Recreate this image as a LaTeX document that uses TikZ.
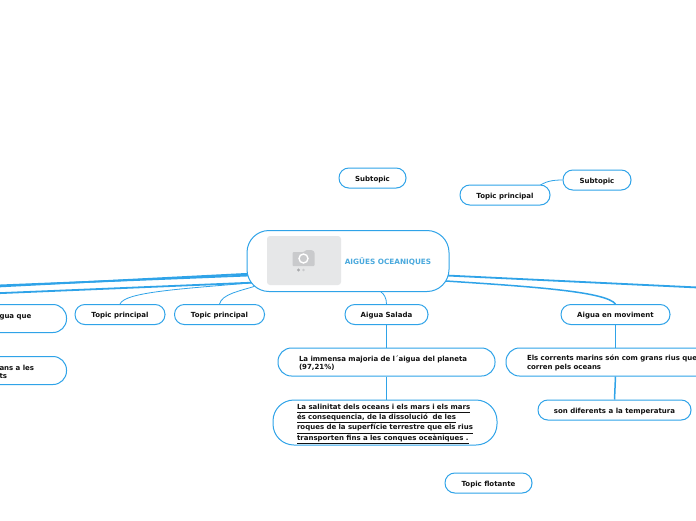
\documentclass[tikz,border=0pt]{standalone}
\usepackage{fontspec}
\setmainfont{DejaVu Sans}
\usetikzlibrary{backgrounds}
\definecolor{mapblue}{HTML}{2FA3E8}
\definecolor{titleblue}{HTML}{4AA9DD}
\definecolor{phgrey}{HTML}{E6E7E8}
\definecolor{camgrey}{HTML}{C9CACC}
\definecolor{dotgrey}{HTML}{A9AAAC}
\definecolor{ink}{HTML}{111111}
\newcommand\dn{\rule{0pt}{8pt}}
\newcommand\ulline[1]{\underline{\rule[-1.6pt]{0pt}{6pt}#1}}
\tikzset{
  x=1pt,y=-1pt,
  mapbox/.style n args={2}{draw=mapblue,line width=1pt,fill=white,rounded corners=#2,
    minimum height=#1,inner sep=0pt,text=ink,font=\fontsize{7}{8.9}\selectfont\bfseries},
  small/.style={mapbox={20pt}{9.8pt},minimum width=#1,text height=6pt,text depth=0pt},
  wide/.style n args={4}{mapbox={#1}{#4},minimum width=#2,text width=#2-2*#3,inner xsep=#3,align=left},
  thinlink/.style={draw=mapblue,line width=0.8pt},
  midlink/.style={draw=mapblue,line width=1.5pt},
  longlink/.style={draw=mapblue,line width=1.8pt},
}
\begin{document}
\begin{tikzpicture}
\useasboundingbox (0,0) rectangle (696,520);
\clip (0,0) rectangle (696,520);

% centre
\node[draw=mapblue,line width=1pt,fill=white,rounded corners=22pt,minimum width=202pt,minimum height=61pt,inner sep=0pt] (c) at (348,261) {};
\node[fill=phgrey,rounded corners=3pt,minimum width=74pt,minimum height=49pt,inner sep=0pt] (photo) at (304,260.5) {};
\node[text=titleblue,font=\fontsize{7.3}{8}\selectfont\bfseries,inner sep=0pt] (title) at (388,261.5) {AIGÜES OCEANIQUES};
% camera icon
\fill[camgrey,rounded corners=1pt] (292.5,252) -- (304,252) -- (306,250) -- (312,250) -- (314.5,252) -- (314.5,266) -- (292.5,266) -- cycle;
\draw[white,line width=1.4pt] (303.5,258.5) circle (4.5);
\fill[dotgrey] (298.5,270) circle (1.6);
\fill[camgrey] (303.5,270) circle (1.4);

% nodes
\node[small=67pt] (s1) at (372.5,178) {Subtopic};
\node[small=68pt] (s2) at (597,180) {Subtopic};
\node[small=90pt] (tp0) at (505,195) {Topic principal};
\node[small=90pt] (tp1) at (120,314.5) {Topic principal};
\node[small=90pt] (tp2) at (219.5,314.5) {Topic principal};
\node[small=83pt] (sal) at (386.5,314.5) {Aigua Salada};
\node[small=109pt] (mov) at (615.5,314.5) {Aigua en moviment};
\node[small=153pt] (dif) at (614.5,410) {son diferents a la temperatura};
\node[small=87pt] (flo) at (488.5,483) {Topic flotante};
\node[wide={28pt}{87pt}{20pt}{13.5pt}] (l1) at (23,318.5) {\dn gua que\\\mbox{}};
\node[wide={28pt}{87pt}{20pt}{13.5pt}] (l2) at (23,370.5) {\dn ans a les\\ts};
\node[wide={28pt}{217pt}{21pt}{13.5pt}] (imm) at (386.5,362) {\dn La immensa majoria de l´aigua del planeta\\(97,21\%)};
\node[wide={45pt}{224pt}{24pt}{21pt}] (sali) at (385,422.5) {\dn\ulline{La salinitat dels oceans i els mars i els mars}\\\ulline{és consequencia, de la dissolució\ \ de les}\\\ulline{roques de la superfície terrestre que els rius}\\\ulline{transporten fins a les conques oceàniques .}};
\node[wide={28pt}{240pt}{21pt}{13.5pt}] (cor) at (626,362) {\dn Els corrents marins són com grans rius que\\corren pels oceans};

% free ends
\coordinate (outL1) at (-2,285.5);
\coordinate (outL2) at (-2,286.5);
\coordinate (outL3) at (-2,293.2);
\coordinate (outR1) at (698,287.5);

\begin{scope}[on background layer]
\fill[white] (0,0) rectangle (696,520);
\draw[longlink] ([xshift=8pt]c.188.5) -- (outL1);
\draw[longlink] ([xshift=8pt]c.187.5) -- (outL2);
\draw[longlink] ([xshift=8pt]c.192) -- (outL3);
\draw[longlink] ([xshift=-8pt]c.-8.5) -- (outR1);
\draw[midlink] ([xshift=-8pt]c.-11.5) .. controls (540,287) and (606,292) .. (mov.north);
\draw[thinlink] ([xshift=8pt]c.-168) .. controls (180,289) and (125,292) .. (tp1.north);
\draw[thinlink] ([xshift=8pt]c.-166) .. controls (240,291) and (222,294) .. (tp2.north);
\draw[thinlink] ([xshift=33pt]c.south) .. controls (384,294) and (386.5,298) .. (sal.north);
\draw[thinlink] (tp0.north) ++(32,3) .. controls (545,181) and (553,180) .. (s2.west);
\draw[midlink] (sal.south) -- (imm.north);
\draw[midlink] (imm.south) -- (sali.north-|imm.south);
\draw[midlink] (mov.south) -- (cor.north-|mov.south);
\draw[midlink] (cor.south-|mov.south) -- (dif.north);
\end{scope}
\end{tikzpicture}
\end{document}
